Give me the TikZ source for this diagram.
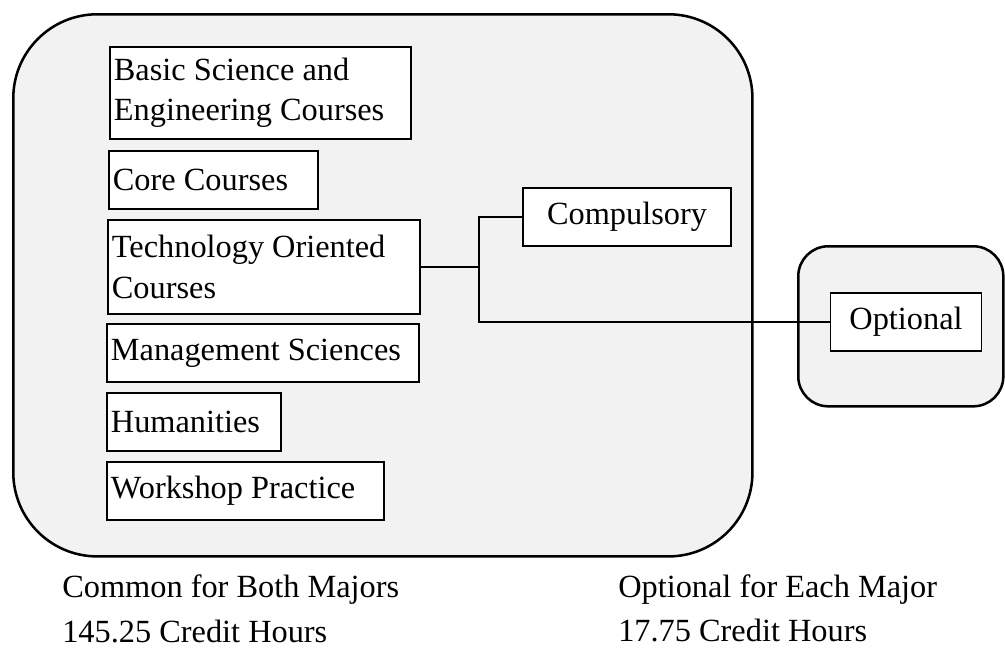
\documentclass[tikz,border=0pt]{standalone}
\usepackage{fontspec}
\setmainfont{Liberation Serif}

\tikzset{
  groupbox/.style={draw,line width=1.8pt,fill=black!5,rounded corners=#1,
        inner sep=0pt,anchor=north west},
  tagbox/.style={draw,line width=1.3pt,fill=white,inner ysep=0pt,
        minimum height=1.45cm},
  coursebox/.style={tagbox,anchor=north west,align=flush left,inner xsep=0.1cm},
  link/.style={line width=1pt},
  note/.style={anchor=base west,inner sep=0pt}
}

\begin{document}
\begin{tikzpicture}[x=0.025cm,y=-0.025cm,font=\fontsize{23}{28.5}\selectfont]
  \useasboundingbox (0,0) rectangle (1005,647);

  % shaded groups
  \node[groupbox=2.1cm,minimum width=18.475cm,minimum height=13.55cm]
        (common) at (12,13) {};
  \node[groupbox=0.75cm,minimum width=5.125cm,minimum height=4cm]
        (optgroup) at (797,245) {};

  % course blocks
  \node[coursebox,text width=7.325cm,minimum height=2.3cm] (basic) at (109,46)
        {Basic Science and\\Engineering Courses};
  \node[coursebox,text width=5.025cm] (core) at (108,150) {Core Courses};
  \node[coursebox,text width=7.6cm,minimum height=2.35cm] (tech) at (107,219)
        {Technology Oriented\\Courses};
  \node[coursebox,text width=7.6cm] (mgmt) at (106,323) {Management Sciences};
  \node[coursebox,text width=4.15cm] (hum) at (106,392) {Humanities};
  \node[coursebox,text width=6.725cm] (work) at (106,461) {Workshop Practice};

  \node[tagbox,minimum width=5.2cm] (comp) at (627,217) {Compulsory};
  \node[tagbox,minimum width=3.775cm] (opt) at (906,322) {Optional};

  % branch out of the technology block
  \draw[link] (tech.east) -- ++(58,0) coordinate (fork);
  \draw[link] (comp.west) -| (fork) |- (opt.west);

  % totals
  \node[note] (commonnote) at (62,597) {Common for Both Majors};
  \node[note] (commonhours) at (62,642) {145.25 Credit Hours};
  \node[note] (optnote) at (618,597) {Optional for Each Major};
  \node[note] (opthours) at (618,641) {17.75 Credit Hours};
\end{tikzpicture}
\end{document}
